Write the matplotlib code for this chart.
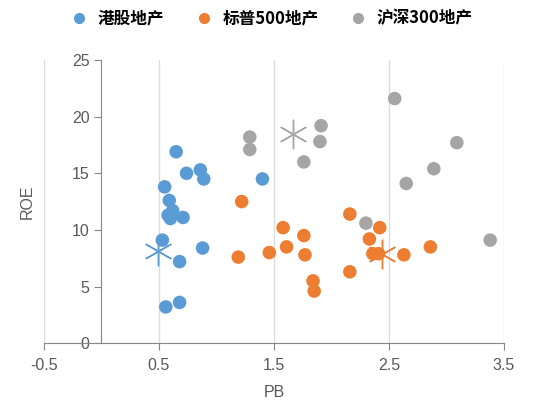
import matplotlib
matplotlib.use('Agg')
import matplotlib.pyplot as plt
from matplotlib.lines import Line2D

plt.rcParams['font.family'] = ['Liberation Sans', 'DejaVu Sans']

# Hong Kong property stocks
hk_pb = [0.65, 0.74, 0.86, 0.89, 0.55, 0.59, 0.62, 0.60, 0.58, 0.71, 1.40,
         0.53, 0.88, 0.68, 0.56, 0.68]
hk_roe = [16.9, 15.0, 15.3, 14.5, 13.8, 12.6, 11.7, 11.0, 11.3, 11.1, 14.5,
          9.1, 8.4, 7.2, 3.2, 3.6]
hk_avg = (0.49, 8.1)

# S&P 500 real estate
sp_pb = [1.22, 1.19, 1.46, 1.58, 1.61, 1.76, 1.77, 1.84, 1.85, 2.16, 2.16,
         2.42, 2.33, 2.36, 2.41, 2.63, 2.86]
sp_roe = [12.5, 7.6, 8.0, 10.2, 8.5, 9.5, 7.8, 5.5, 4.6, 11.4, 6.3,
          10.2, 9.2, 7.9, 7.9, 7.8, 8.5]
sp_avg = (2.44, 7.9)

# CSI 300 real estate
cs_pb = [1.29, 1.29, 1.91, 1.90, 1.76, 2.55, 3.09, 2.89, 2.65, 2.30, 3.38]
cs_roe = [18.2, 17.1, 19.2, 17.8, 16.0, 21.6, 17.7, 15.4, 14.1, 10.6, 9.1]
cs_avg = (1.67, 18.5)

labels = ['港股地产', '标普500地产', '沪深300地产']
colors = ['#5B9BD5', '#ED7D31', '#A5A5A5']

fig = plt.figure(figsize=(5.35, 4.11), dpi=100)
ax = fig.add_axes([0.082, 0.165, 0.860, 0.689])

series = [(hk_pb, hk_roe, hk_avg), (sp_pb, sp_roe, sp_avg), (cs_pb, cs_roe, cs_avg)]
for (xs, ys, avg), c in zip(series, colors):
    ax.scatter(xs, ys, s=95, color=c, edgecolors='none', zorder=3)
    ax.scatter([avg[0]], [avg[1]], s=420, marker=(6, 2, 0), color=c,
               linewidths=1.0, zorder=4)

ax.set_xlim(-0.5, 3.5)
ax.set_ylim(0, 25)
ax.set_xticks([-0.5, 0.5, 1.5, 2.5, 3.5])
ax.set_xticklabels(['-0.5', '0.5', '1.5', '2.5', '3.5'])
ax.set_yticks([0, 5, 10, 15, 20, 25])

ax.grid(axis='x', color='#dcdcdc', linewidth=1.0)
ax.set_axisbelow(True)
for s in ['top', 'right']:
    ax.spines[s].set_visible(False)
ax.spines['left'].set_position(('data', 0))
ax.spines['left'].set_color('#868686')
ax.spines['bottom'].set_color('#868686')
ax.tick_params(axis='both', colors='#868686', labelcolor='#595959',
               labelsize=11.5, length=5, direction='out')
ax.tick_params(axis='x', pad=6)

ax.set_xlabel('PB', fontsize=11.5, color='#595959', labelpad=8)
ax.set_ylabel('ROE', fontsize=11.5, color='#595959')
ax.yaxis.set_label_coords(-0.02, 0.5)

handles = [Line2D([], [], marker='o', linestyle='none', color=c, markersize=7)
           for c in colors]
fig.legend(handles, labels, loc='center', bbox_to_anchor=(0.5, 0.955), ncol=3,
           frameon=False, handletextpad=0.1, columnspacing=1.4,
           prop={'family': ['Noto Sans CJK SC', 'DejaVu Sans'], 'size': 12,
                 'weight': 'bold'})

fig.savefig('out.png', dpi=100)
